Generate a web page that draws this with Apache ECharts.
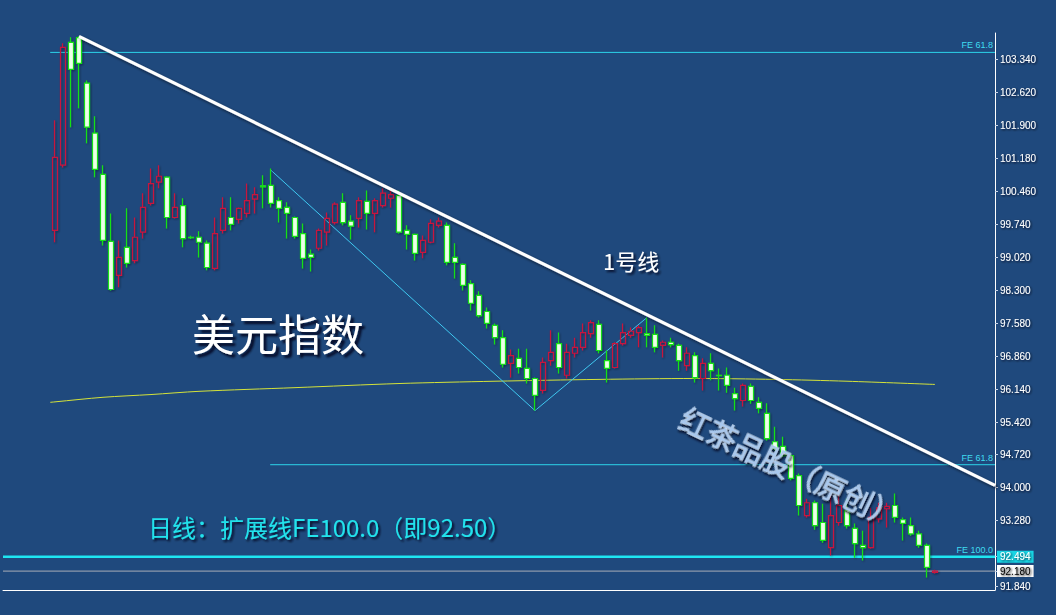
<!DOCTYPE html>
<html><head><meta charset="utf-8">
<script src="https://cdn.jsdelivr.net/npm/echarts@6/dist/echarts.min.js"></script>
<style>html,body{margin:0;padding:0;background:#1f497d;}#c{width:1056px;height:615px;}</style>
</head><body><div id="c"></div>
<script>
// ---- data (USD index, daily candles) ----
const openV  = [99.61,101.03,103.71,103.81,102.82,101.73,100.83,99.37,98.63,99.24,98.95,99.57,100.20,100.66,100.77,99.89,100.15,99.46,99.46,99.33,98.78,99.61,99.89,99.85,99.98,100.29,100.58,100.59,100.26,100.11,99.89,99.54,99.09,99.22,99.57,99.78,100.22,99.81,99.87,100.24,99.98,100.15,100.31,100.37,99.61,99.52,99.13,99.35,99.72,99.72,99.02,98.87,98.45,98.19,97.84,97.54,97.27,96.71,96.82,96.60,96.38,96.12,96.77,97.14,96.45,96.93,97.06,97.36,97.56,96.77,96.62,97.14,97.32,97.38,97.36,97.34,97.10,97.17,97.10,96.66,96.88,96.38,96.71,96.45,96.45,96.05,95.90,96.21,95.86,95.62,95.00,94.90,94.70,94.26,93.39,93.67,93.24,92.69,93.24,93.50,93.11,92.74,92.69,93.32,93.54,93.61,93.30,93.17,92.99,92.74,92.15];
const closeV = [101.20,103.60,103.12,103.25,101.86,100.94,99.39,98.32,99.02,98.89,99.46,100.11,100.63,100.79,99.89,100.11,99.43,99.45,99.35,98.80,99.54,100.09,99.74,100.09,100.26,100.39,100.56,100.20,100.09,99.98,99.48,99.00,99.02,99.61,99.87,100.18,99.78,99.70,100.26,99.98,100.26,100.42,100.39,99.57,99.52,99.11,99.39,99.76,99.81,98.91,98.91,98.41,98.02,97.75,97.58,97.27,96.69,96.88,96.62,96.38,96.01,96.73,96.95,96.62,96.95,97.06,97.38,97.60,96.99,96.60,97.14,97.38,97.41,97.49,97.32,97.06,97.17,97.12,96.77,96.93,96.40,96.71,96.55,96.44,96.23,95.94,96.23,95.90,95.73,95.07,94.85,94.70,94.20,93.61,93.67,93.17,92.85,93.39,93.61,93.17,92.78,92.69,93.35,93.56,93.59,93.35,93.22,92.99,92.74,92.26,92.18];
const lowV   = [99.35,100.98,101.86,102.27,101.51,100.77,99.28,98.30,98.37,98.80,98.89,99.43,100.15,100.53,99.65,99.87,99.24,99.42,99.02,98.74,98.74,99.54,99.61,99.76,99.89,99.98,100.09,100.11,99.78,99.43,99.43,98.78,98.71,99.17,99.28,99.74,99.72,99.41,99.67,99.63,99.57,100.11,100.11,99.54,99.19,98.95,99.00,99.33,99.67,98.85,98.56,98.30,97.86,97.71,97.47,97.12,96.62,96.40,96.49,96.27,95.68,96.05,96.66,96.49,96.38,96.84,96.99,97.27,96.93,96.29,96.60,97.10,97.27,97.06,97.06,96.95,96.84,97.06,96.55,96.55,96.29,96.12,96.34,96.12,96.07,95.68,95.77,95.83,95.62,95.03,94.81,94.66,94.16,93.39,93.35,93.08,92.80,92.52,93.17,93.11,92.47,92.41,92.67,93.24,93.13,93.24,92.85,92.95,92.69,92.04,92.13];
const highV  = [102.01,103.69,103.82,103.84,102.88,102.10,101.03,99.98,99.39,100.09,99.89,100.42,100.96,101.03,100.79,100.42,100.31,99.49,99.59,99.39,99.89,100.33,100.33,100.11,100.63,100.55,100.81,100.96,100.33,100.22,99.91,99.76,99.19,99.65,100.00,100.22,100.42,99.94,100.33,100.48,100.31,100.53,100.50,100.48,99.72,99.54,99.50,99.85,99.89,99.78,99.33,98.89,98.52,98.28,97.93,97.58,97.43,97.01,97.03,97.03,96.40,96.84,97.43,97.38,97.14,97.27,97.58,97.65,97.65,96.99,97.17,97.58,97.49,97.54,97.71,97.54,97.21,97.27,97.14,97.06,96.95,96.82,96.93,96.60,96.62,96.18,96.27,96.27,95.97,95.84,95.33,95.11,94.74,94.31,93.76,93.72,93.65,93.94,93.98,93.76,93.22,93.06,93.56,93.67,93.67,93.87,93.35,93.35,93.06,92.78,92.21];
const categories = openV.map((_, i) => String(i + 1));

// right-axis tick labels as printed on the reference
const yTickValues = [103.34,102.62,101.90,101.18,100.46,99.74,99.02,98.30,97.58,96.86,96.14,95.42,94.72,94.00,93.28,92.494,92.18,91.84];

// overlay lines, [candle number, price]
const trendLine1 = [[4,103.84],[118.5,94.05]];
const zigzagLine = [[28,100.92],[61,95.68],[75,97.71]];
const maCandles  = [0.4,1,7,13,19,31,44,56,69,81,91,100,111];
const maValues   = [95.86,95.87,95.97,96.03,96.10,96.18,96.27,96.32,96.36,96.38,96.36,96.32,96.25];

// Fibonacci expansion levels: [label, price, first candle]
const levelNames  = ['FE 61.8', 'FE 61.8', 'FE 100.0'];
const levelPrices = [103.49, 94.50, 92.494];
const levelFrom   = [0.4, 27.9, -6];
const fe100 = 92.494;
const lastPrice = 92.18;
const axisEndCandle = 118.5;

// ---- layout ----
const PAD_L = 6, PAD_R = 7;
const N = categories.length + PAD_L + PAD_R;
const cats = [];
for (let i = 0; i < PAD_L; i++) cats.push('');
categories.forEach(c => cats.push(c));
for (let i = 0; i < PAD_R; i++) cats.push('');
const kData = [];
for (let i = 0; i < PAD_L; i++) kData.push('-');
for (let i = 0; i < openV.length; i++) kData.push([openV[i], closeV[i], lowV[i], highV[i]]);
for (let i = 0; i < PAD_R; i++) kData.push('-');
const cx = n => Math.max(-0.5, n - 1 + PAD_L);  // candle number -> x value
const pts = arr => arr.map(p => [cx(p[0]), p[1]]);

const shadow = {shadowColor:'rgba(0,0,20,0.6)', shadowBlur:3, shadowOffsetX:2, shadowOffsetY:2};
const tshadow = {textShadowColor:'rgba(0,0,20,0.85)', textShadowBlur:2, textShadowOffsetX:2, textShadowOffsetY:2};
const cjk = '"Noto Sans CJK SC", "Noto Sans", sans-serif';
const latin = '"Liberation Sans", Arial, sans-serif';

const levelSeries = levelPrices.map((p, i) => ({
  type:'line', name:levelNames[i], xAxisIndex:1, symbol:'none', silent:true, z:4,
  data:[[cx(levelFrom[i]), p],[cx(axisEndCandle), p]],
  lineStyle: i === 2 ? {color:'#1ee6f2', width:2.6} : {color:'#2cd4ea', width:1},
  markPoint:{silent:true, symbol:'circle', symbolSize:0, animation:false,
    data:[{coord:[cx(axisEndCandle), p]}],
    label:{show:true, formatter:levelNames[i], position:'left', distance:2, offset:[0,-7],
           color:'#3fdcf0', fontSize:9, fontFamily:latin}}
}));

const chart = echarts.init(document.getElementById('c'), null, {renderer:'svg'});
chart.setOption({
  backgroundColor:'#1f497d',
  animation:false,
  grid:{left:3, right:61, top:33, bottom:25},
  xAxis:[
    {type:'category', data:cats, boundaryGap:true,
     axisLine:{show:true, lineStyle:{color:'#ffffff', width:1}},
     axisTick:{show:false}, axisLabel:{show:false}, splitLine:{show:false}},
    {type:'value', min:-0.5, max:N-0.5, show:false, splitLine:{show:false}}
  ],
  yAxis:[{
    type:'value', position:'right', min:91.768, max:103.913, scale:true,
    axisLine:{show:true, onZero:false, lineStyle:{color:'#ffffff', width:1}},
    axisTick:{show:true, length:3, customValues:yTickValues, lineStyle:{color:'#c8d4e8'}},
    splitLine:{show:false},
    axisLabel:{
      customValues:yTickValues, margin:2,
      color:'#ffffff', fontFamily:latin, fontSize:10,
      ...tshadow, textShadowOffsetX:1, textShadowOffsetY:1,
      formatter: v => {
        const s = v.toFixed(3);
        if (Math.abs(v - fe100) < 1e-6) return '{fe|' + s + '}';
        if (Math.abs(v - lastPrice) < 1e-6) return '{lp|' + s + '}';
        return '{n|' + s + '}';
      },
      rich:{
        n:{padding:[1,3,1,3], color:'#ffffff'},
        fe:{padding:[1,3,1,3], backgroundColor:'#18d6e6', color:'#ffffff'},
        lp:{padding:[1,3,1,3], backgroundColor:'#ffffff', color:'#000000', textShadowColor:'transparent'}
      }
    }
  }],
  series:[
    {type:'candlestick', name:'美元指数', data:kData, barWidth:5.5, z:5,
     itemStyle:{color:'rgba(0,0,0,0)', color0:'#ecffe8', borderColor:'#c8123e', borderColor0:'#19e019', borderWidth:1.2,
                shadowColor:'rgba(0,0,20,0.45)', shadowBlur:2, shadowOffsetX:1, shadowOffsetY:1}},
    {type:'line', name:'MA', xAxisIndex:1, data:maCandles.map((c,i)=>[cx(c), maValues[i]]), symbol:'none', smooth:0.3,
     lineStyle:{color:'#d4e23a', width:1}, silent:true, z:3},
    {type:'line', name:'zigzag', xAxisIndex:1, data:pts(zigzagLine), symbol:'none',
     lineStyle:{color:'#3fc8f0', width:1}, silent:true, z:3},
    {type:'line', name:'1号线', xAxisIndex:1, data:pts(trendLine1), symbol:'none',
     lineStyle:{color:'#ffffff', width:3.2, ...shadow}, silent:true, z:6},
    {type:'line', name:'price', xAxisIndex:1, data:[[cx(-6), lastPrice],[cx(axisEndCandle), lastPrice]], symbol:'none',
     lineStyle:{color:'#a8aeb8', width:1}, silent:true, z:3},
    ...levelSeries
  ],
  graphic:[
    {type:'text', left:192, top:310, silent:true, z:10,
     style:{text:'美元指数', font:'43px ' + cjk, fill:'#ffffff', ...tshadow, textShadowOffsetX:3, textShadowOffsetY:3}},
    {type:'text', left:603, top:249, silent:true, z:10,
     style:{text:'1号线', font:'22px ' + cjk, fill:'#ffffff', ...tshadow}},
    {type:'text', left:148, top:514, silent:true, z:10,
     style:{text:'日线：扩展线FE100.0（即92.50）', font:'24px ' + cjk, fill:'#22e2ec', ...tshadow}},
    {type:'text', x:791, y:466, rotation:-0.44, silent:true, z:10,
     style:{text:'红茶品股（原创）', x:0, y:0, align:'center', verticalAlign:'middle', font:'30px ' + cjk,
            fill:'#a8c8ee', stroke:'rgba(235,245,255,0.85)', lineWidth:0.8, ...tshadow}}
  ]
});
</script></body></html>
